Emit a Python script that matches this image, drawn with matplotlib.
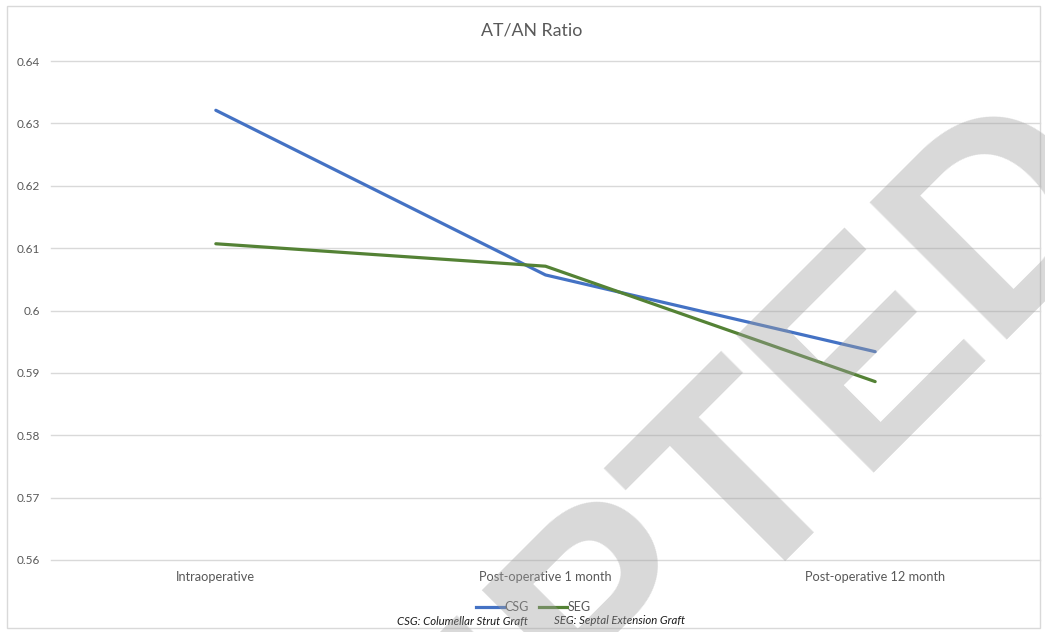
import matplotlib.pyplot as plt
import matplotlib.patches as patches
from matplotlib.lines import Line2D

# AT/AN ratio means per group at each follow-up point
timepoints = ["Intraoperative", "Post-operative 1 month", "Post-operative 12 month"]
csg = [0.6321, 0.6057, 0.5934]
seg = [0.6107, 0.6071, 0.5886]
yticks = [0.56, 0.57, 0.58, 0.59, 0.6, 0.61, 0.62, 0.63, 0.64]
yticklabels = ["0.56", "0.57", "0.58", "0.59", "0.6", "0.61", "0.62", "0.63", "0.64"]

plt.rcParams['font.family'] = ['Lato', 'DejaVu Sans']

fig = plt.figure(figsize=(10.45, 6.32), dpi=100)
ax = fig.add_axes([51 / 1045, 1 - 560 / 632, 989 / 1045, 499 / 632])

x = list(range(len(timepoints)))
ax.plot(x, csg, color="#4472C4", linewidth=2.3, solid_capstyle="round", zorder=3)
ax.plot(x, seg, color="#548235", linewidth=2.3, solid_capstyle="round", zorder=3)

ax.set_xlim(-0.5, 2.5)
ax.set_ylim(0.56, 0.64)
ax.set_yticks(yticks)
ax.set_yticklabels(yticklabels, color="#595959", fontsize=8.5)
ax.set_xticks(x)
ax.set_xticklabels(timepoints, color="#595959", fontsize=9.2)
ax.tick_params(axis="both", length=0)
ax.tick_params(axis="x", pad=8)
ax.tick_params(axis="y", pad=8)
ax.grid(axis="y", color="#D9D9D9", linewidth=1)
for gl in ax.get_ygridlines():
    gl.set_clip_on(False)
ax.set_axisbelow(True)
for s in ax.spines.values():
    s.set_visible(False)

fig.text(532 / 1045, 1 - 31 / 632, "AT/AN Ratio", ha="center", va="center",
         fontsize=12.8, color="#595959")

# legend at the bottom
handles = [Line2D([0], [0], color="#4472C4", linewidth=2.3),
           Line2D([0], [0], color="#548235", linewidth=2.3)]
fig.legend(handles, ["CSG", "SEG"], loc="center", bbox_to_anchor=(533 / 1045, 1 - 607 / 632),
           ncol=2, frameon=False, fontsize=9, labelcolor="#595959",
           handlelength=2.3, handletextpad=0.0, columnspacing=0.8)

fig.text(462 / 1045, 1 - 621 / 632, "CSG: Columellar Strut Graft", ha="center", va="center",
         fontsize=8.2, style="italic", color="#1a1a1a")
fig.text(619 / 1045, 1 - 621 / 632, "SEG: Septal Extension Graft", ha="center", va="center",
         fontsize=8.2, style="italic", color="#1a1a1a")

# chart border
fig.patches.append(patches.Rectangle((7 / 1045, 1 - 628 / 632), 1033 / 1045, 622 / 632,
                                     transform=fig.transFigure, fill=False,
                                     edgecolor="#D9D9D9", linewidth=1))

# watermark
fig.text(40 / 1045, 1 - 1300 / 632, "ACCEPTED", rotation=45, rotation_mode="anchor",
         ha="left", va="baseline", fontsize=203, fontweight="bold",
         family="Liberation Sans", color="#a0a0a0", alpha=0.4, zorder=10)

fig.savefig("out.png", dpi=100)
